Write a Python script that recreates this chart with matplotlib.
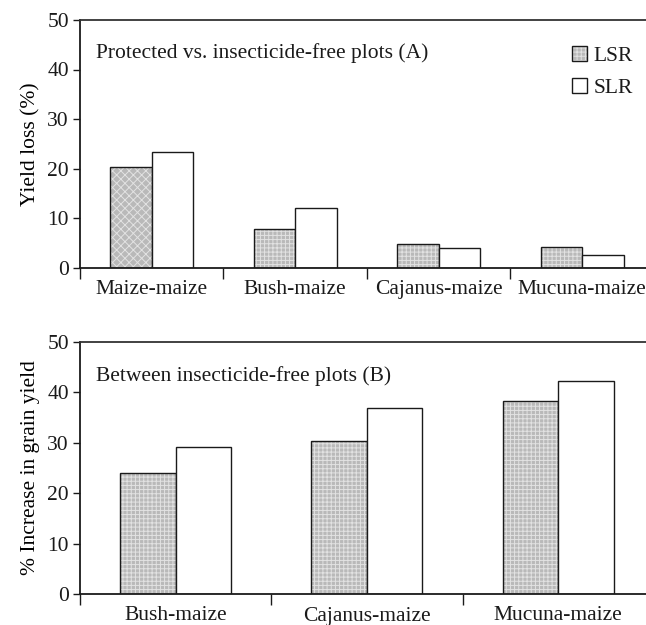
"""Yield loss and grain yield increase by cropping system (LSR vs SLR)."""

import matplotlib

matplotlib.use("Agg")

import matplotlib.pyplot as plt
import numpy as np
from matplotlib.legend_handler import HandlerTuple
from matplotlib.patches import Patch

# Panel A: protected vs. insecticide-free plots
systems_a = ["Maize-maize", "Bush-maize", "Cajanus-maize", "Mucuna-maize"]
lsr_a = [20.4, 7.8, 4.8, 4.1]
slr_a = [23.3, 12.1, 3.9, 2.6]

# Panel B: between insecticide-free plots
systems_b = ["Bush-maize", "Cajanus-maize", "Mucuna-maize"]
lsr_b = [24.1, 30.3, 38.3]
slr_b = [29.1, 36.9, 42.3]

yticks = [0, 10, 20, 30, 40, 50]

INK = "#1a1a1a"
LSR_FACE = "#b9b9b9"
HATCH_COLOR = "#e2e2e2"

plt.rcParams.update(
    {
        "font.family": ["Liberation Serif", "DejaVu Serif"],
        "font.size": 15.5,
        "axes.linewidth": 1.3,
        "axes.edgecolor": INK,
        "text.color": INK,
        "xtick.color": INK,
        "ytick.color": INK,
        "hatch.linewidth": 0.7,
    }
)

W = 0.29


def draw_panel(ax, cats, lsr, slr, ylabel, title, hatches):
    x = np.arange(len(cats))
    # hatched fill first (hatch takes the edge colour), outline drawn on top
    for xi, v, h in zip(x, lsr, hatches):
        ax.bar(xi - W / 2, v, W, color=LSR_FACE, edgecolor=HATCH_COLOR,
               linewidth=0, hatch=h)
    ax.bar(x - W / 2, lsr, W, fill=False, edgecolor=INK, linewidth=1.0)
    ax.bar(x + W / 2, slr, W, color="white", edgecolor=INK, linewidth=1.0)
    ax.set_xlim(-0.5, len(cats) - 0.5)
    ax.set_ylim(0, 50)
    ax.set_yticks(yticks)
    ax.set_xticks(x)
    ax.set_xticklabels(cats)
    ax.set_xticks(np.arange(len(cats)) - 0.5, minor=True)
    ax.tick_params(axis="x", which="major", length=0, pad=9)
    ax.tick_params(axis="x", which="minor", length=8, width=1.0, direction="out")
    ax.tick_params(axis="y", length=5, width=1.0, direction="out", pad=3)
    ax.spines["right"].set_visible(False)
    ax.spines["top"].set_color("#333333")
    ax.set_ylabel(ylabel, labelpad=5)
    ax.text(0.028, 0.865, title, transform=ax.transAxes, fontsize=15.5,
            ha="left", va="center")


fig = plt.figure(figsize=(6.46, 6.25), dpi=100)
ax_a = fig.add_axes([0.1238, 0.572, 0.8885, 0.396])
ax_b = fig.add_axes([0.1238, 0.0496, 0.8885, 0.4032])

draw_panel(ax_a, systems_a, lsr_a, slr_a, "Yield loss (%)",
           "Protected vs. insecticide-free plots (A)",
           ["xxxx", "++++", "++++", "++++"])
draw_panel(ax_b, systems_b, lsr_b, slr_b, "% Increase in grain yield",
           "Between insecticide-free plots (B)",
           ["++++", "++++", "++++"])

# hatched square with a dark outline laid over it
lsr_handle = (
    Patch(facecolor=LSR_FACE, edgecolor=HATCH_COLOR, linewidth=0, hatch="++++"),
    Patch(fill=False, edgecolor=INK, linewidth=1.0),
)
slr_handle = Patch(facecolor="white", edgecolor=INK, linewidth=1.0)
ax_a.legend([lsr_handle, slr_handle], ["LSR", "SLR"],
            handler_map={tuple: HandlerTuple(ndivide=1, pad=0)},
            loc="upper left", bbox_to_anchor=(0.842, 0.93),
            frameon=False, handlelength=0.7, handleheight=0.7,
            handletextpad=0.3, labelspacing=0.55, borderaxespad=0)

fig.savefig("out.png", dpi=100)
